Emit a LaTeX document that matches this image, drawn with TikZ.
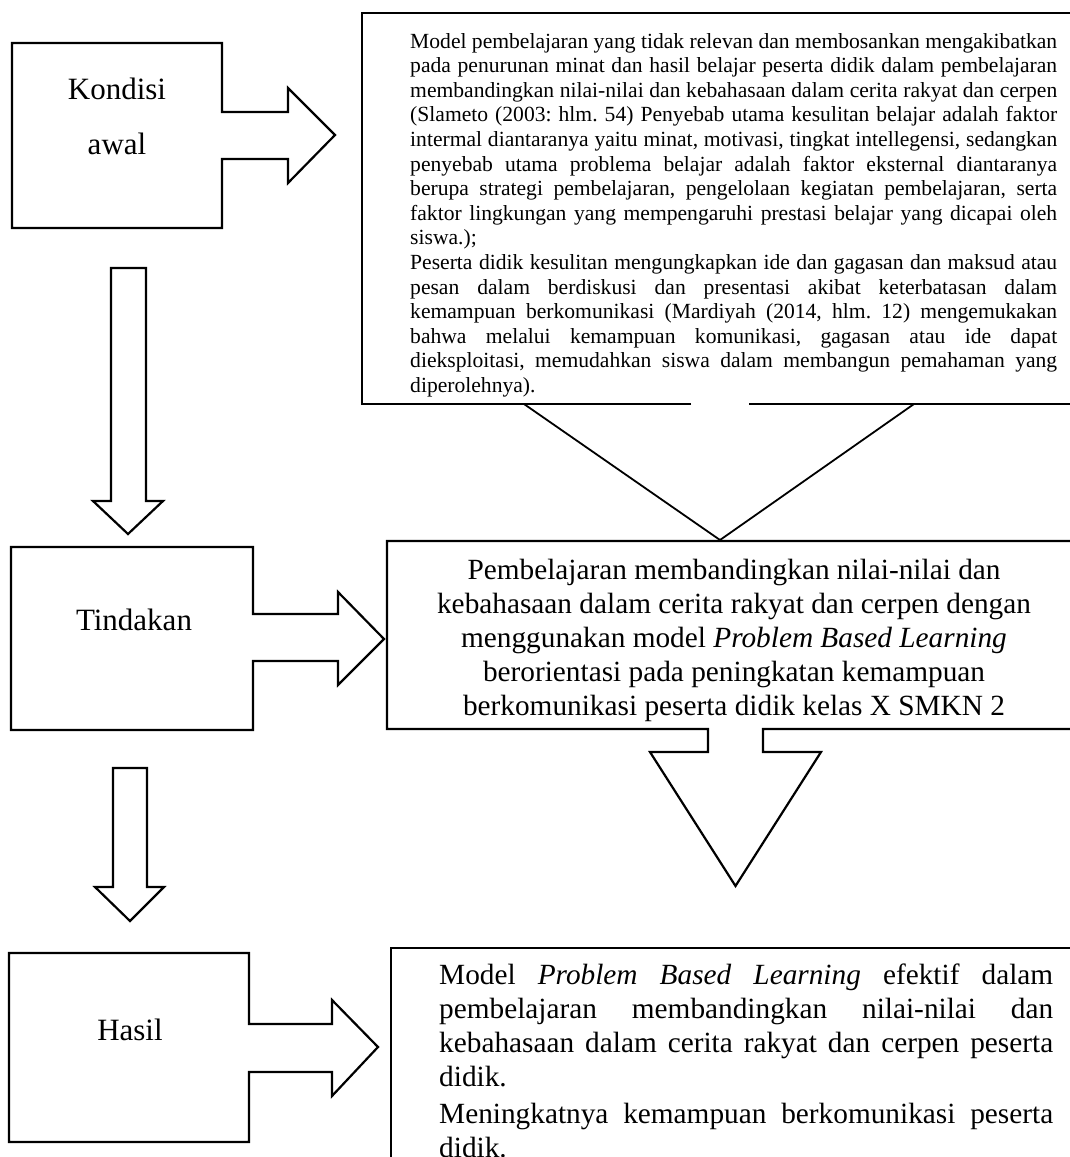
\documentclass[tikz,border=0pt]{standalone}
\usepackage{fontspec}
\setmainfont{Liberation Serif}
\begin{document}
\begin{tikzpicture}[x=1pt,y=-1pt,line join=miter,
  shp/.style={draw=black,line width=2.2pt},
  tri/.style={draw=black,line width=1.8pt},
  lbl/.style={inner sep=0pt,anchor=base,font=\fontsize{31}{36}\selectfont}]
\useasboundingbox (0,0) rectangle (1070,1157);
\clip (0,0) rectangle (1070,1157);

% Kondisi awal box with right block arrow
\draw[shp] (12,43) -- (222,43) -- (222,112) -- (288,112) -- (288,88) -- (335,135)
  -- (288,183) -- (288,159) -- (222,159) -- (222,228) -- (12,228) -- cycle;
\node[lbl] (k1) at (117,99) {Kondisi};
\node[lbl] (k2) at (117,154) {awal};

% down arrow 1
\draw[shp] (111,268) -- (146,268) -- (146,501) -- (163,501) -- (128,534)
  -- (93,501) -- (111,501) -- cycle;

% Tindakan box with right block arrow
\draw[shp] (11,547) -- (253,547) -- (253,614) -- (338,614) -- (338,592) -- (384,639)
  -- (338,685) -- (338,661) -- (253,661) -- (253,730) -- (11,730) -- cycle;
\node[lbl] (t1) at (134,630) {Tindakan};

% down arrow 2
\draw[shp] (113,768) -- (147,768) -- (147,887) -- (164,887) -- (130,921)
  -- (95,887) -- (113,887) -- cycle;

% Hasil box with right block arrow
\draw[shp] (9,953) -- (249,953) -- (249,1024) -- (332,1024) -- (332,1000) -- (378,1047)
  -- (332,1096) -- (332,1072) -- (249,1072) -- (249,1142) -- (9,1142) -- cycle;
\node[lbl] (h1) at (130,1040) {Hasil};

% top text box (opening in bottom edge) and triangle
\draw[shp] (691,404) -- (362,404) -- (362,13) -- (1085,13) -- (1085,404) -- (749,404);
\draw[tri] (524,404) -- (720,540) -- (914,404);
\node[inner sep=0pt,anchor=base west] (toptext) at (410,48) {\begin{minipage}[t]{647pt}%
\fontsize{21.6}{24.6}\selectfont\frenchspacing\setlength{\parindent}{0pt}%
\hyphenpenalty=10000\exhyphenpenalty=10000
Model pembelajaran yang tidak relevan dan membosankan mengakibatkan\linebreak
pada penurunan minat dan hasil belajar peserta didik dalam pembelajaran\linebreak
membandingkan nilai-nilai dan kebahasaan dalam cerita rakyat dan cerpen\linebreak
(Slameto (2003: hlm. 54) Penyebab utama kesulitan belajar adalah faktor\linebreak
intermal diantaranya yaitu minat, motivasi, tingkat intellegensi, sedangkan\linebreak
penyebab utama problema belajar adalah faktor eksternal diantaranya\linebreak
berupa strategi pembelajaran, pengelolaan kegiatan pembelajaran, serta\linebreak
faktor lingkungan yang mempengaruhi prestasi belajar yang dicapai oleh\linebreak
siswa.);\par
Peserta didik kesulitan mengungkapkan ide dan gagasan dan maksud atau\linebreak
pesan dalam berdiskusi dan presentasi akibat keterbatasan dalam\linebreak
kemampuan berkomunikasi (Mardiyah (2014, hlm. 12) mengemukakan\linebreak
bahwa melalui kemampuan komunikasi, gagasan atau ide dapat\linebreak
dieksploitasi, memudahkan siswa dalam membangun pemahaman yang\linebreak
diperolehnya).\par
\end{minipage}};

% middle box with down block arrow
\draw[shp] (708,729) -- (387,729) -- (387,541) -- (1085,541) -- (1085,729) -- (763,729)
  -- (763,752) -- (821,752) -- (735.5,886) -- (650,752) -- (708,752) -- cycle;
\node[inner sep=0pt,anchor=base] (midtext) at (734,579) {\begin{minipage}[t]{680pt}%
\centering\fontsize{29.3}{34}\selectfont
Pembelajaran membandingkan nilai-nilai dan\\
kebahasaan dalam cerita rakyat dan cerpen dengan\\
menggunakan model \textit{Problem Based Learning}\\
berorientasi pada peningkatan kemampuan\\
berkomunikasi peserta didik kelas X SMKN 2\par
\end{minipage}};

% bottom box
\draw[shp] (391,1175) -- (391,948) -- (1085,948) -- (1085,1175);
\node[inner sep=0pt,anchor=base west] (bottext) at (439,984) {\begin{minipage}[t]{614pt}%
\fontsize{29.3}{34}\selectfont\frenchspacing\setlength{\parindent}{0pt}%
\setlength{\parskip}{3pt}%
\hyphenpenalty=10000\exhyphenpenalty=10000
Model \textit{Problem Based Learning} efektif dalam\linebreak
pembelajaran membandingkan nilai-nilai dan\linebreak
kebahasaan dalam cerita rakyat dan cerpen peserta\linebreak
didik.\par
Meningkatnya kemampuan berkomunikasi peserta\linebreak
didik.\par
\end{minipage}};
\end{tikzpicture}
\end{document}
